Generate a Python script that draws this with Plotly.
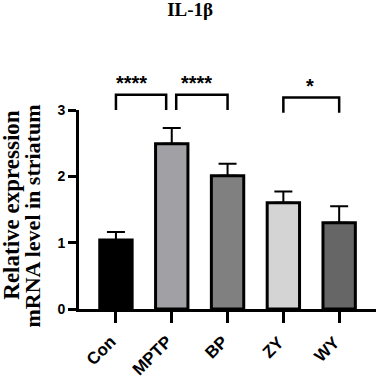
import plotly.graph_objects as go

categories = ["Con", "MPTP", "BP", "ZY", "WY"]
means = [1.04, 2.49, 2.01, 1.60, 1.30]
errors = [0.12, 0.24, 0.18, 0.17, 0.25]
colors = ["#000000", "#a1a1a5", "#808080", "#d4d4d4", "#666666"]
y_ticks = [0, 1, 2, 3]
# significance: (left index, right index, label)
sig_pairs = [(0, 0.9, "****"), (1.08, 2, "****"), (3, 4, "*")]

YMAX = 3.0
x_idx = list(range(len(categories)))

fig = go.Figure()
fig.add_trace(go.Bar(
    x=x_idx, y=means, width=0.58,
    marker=dict(color=colors, line=dict(color="black", width=3)),
    error_y=dict(type="data", array=errors, arrayminus=[0]*len(errors), symmetric=False,
                 color="black", thickness=2, width=9),
    showlegend=False,
))

bracket_levels = [(3.0, 3.23), (3.0, 3.23), (2.96, 3.19)]
star_levels = [3.21, 3.21, 3.165]
star_offsets = [-0.17, -0.1, -0.03]
for (a, b, lab), (yb, yt), sy, so in zip(sig_pairs, bracket_levels, star_levels, star_offsets):
    fig.add_shape(type="path", xref="x", yref="paper",
                  path=f"M {a},{yb/YMAX} L {a},{yt/YMAX} L {b},{yt/YMAX} L {b},{yb/YMAX}",
                  line=dict(color="black", width=2.5))
    fig.add_annotation(x=(a + b) / 2 + so, y=sy / YMAX, xref="x", yref="paper",
                       text=lab, showarrow=False, xanchor="center", yanchor="bottom",
                       font=dict(family="Liberation Sans", size=20, color="black", weight="bold"))

# rotated category labels
for i, lab in zip(x_idx, categories):
    fig.add_annotation(x=i, y=-0.104, xref="x", yref="paper", text=lab, textangle=-45,
                       showarrow=False, xanchor="right", yanchor="top", xshift=7,
                       font=dict(family="Liberation Sans", size=17, color="black", weight="bold"))

fig.add_annotation(x=-0.227, y=0.522, xref="paper", yref="paper", text="Relative expression",
                   textangle=-90, showarrow=False, xanchor="center", yanchor="middle",
                   font=dict(family="Liberation Serif", size=23, color="black", weight="bold"))
fig.add_annotation(x=-0.158, y=0.465, xref="paper", yref="paper", text="mRNA level in striatum",
                   textangle=-90, showarrow=False, xanchor="center", yanchor="middle",
                   font=dict(family="Liberation Serif", size=22, color="black", weight="bold"))

fig.update_layout(
    width=378, height=378,
    margin=dict(l=78.5, r=2, t=110, b=68.8, pad=0),
    paper_bgcolor="white", plot_bgcolor="white",
    title=dict(text="IL-1β", x=0.503, y=0.974, xanchor="center", yanchor="middle",
               font=dict(family="Liberation Serif", size=19, color="black", weight="bold")),
    xaxis=dict(range=[-0.662, 4.66], tickvals=x_idx, showticklabels=False,
               showline=True, linecolor="black", linewidth=3, ticks="outside", ticklen=11,
               tickwidth=2.5, tickcolor="black", showgrid=False, zeroline=False),
    yaxis=dict(range=[0, YMAX], tickvals=y_ticks, showline=True, linecolor="black", linewidth=3,
               ticks="outside", ticklen=8, tickwidth=2.5, tickcolor="black", showgrid=False,
               zeroline=False,
               tickfont=dict(family="Liberation Sans", size=14, color="black", weight="bold")),
)

fig.write_html("out.html", config={"displayModeBar": False},
               post_script="document.body.style.margin='0';")
